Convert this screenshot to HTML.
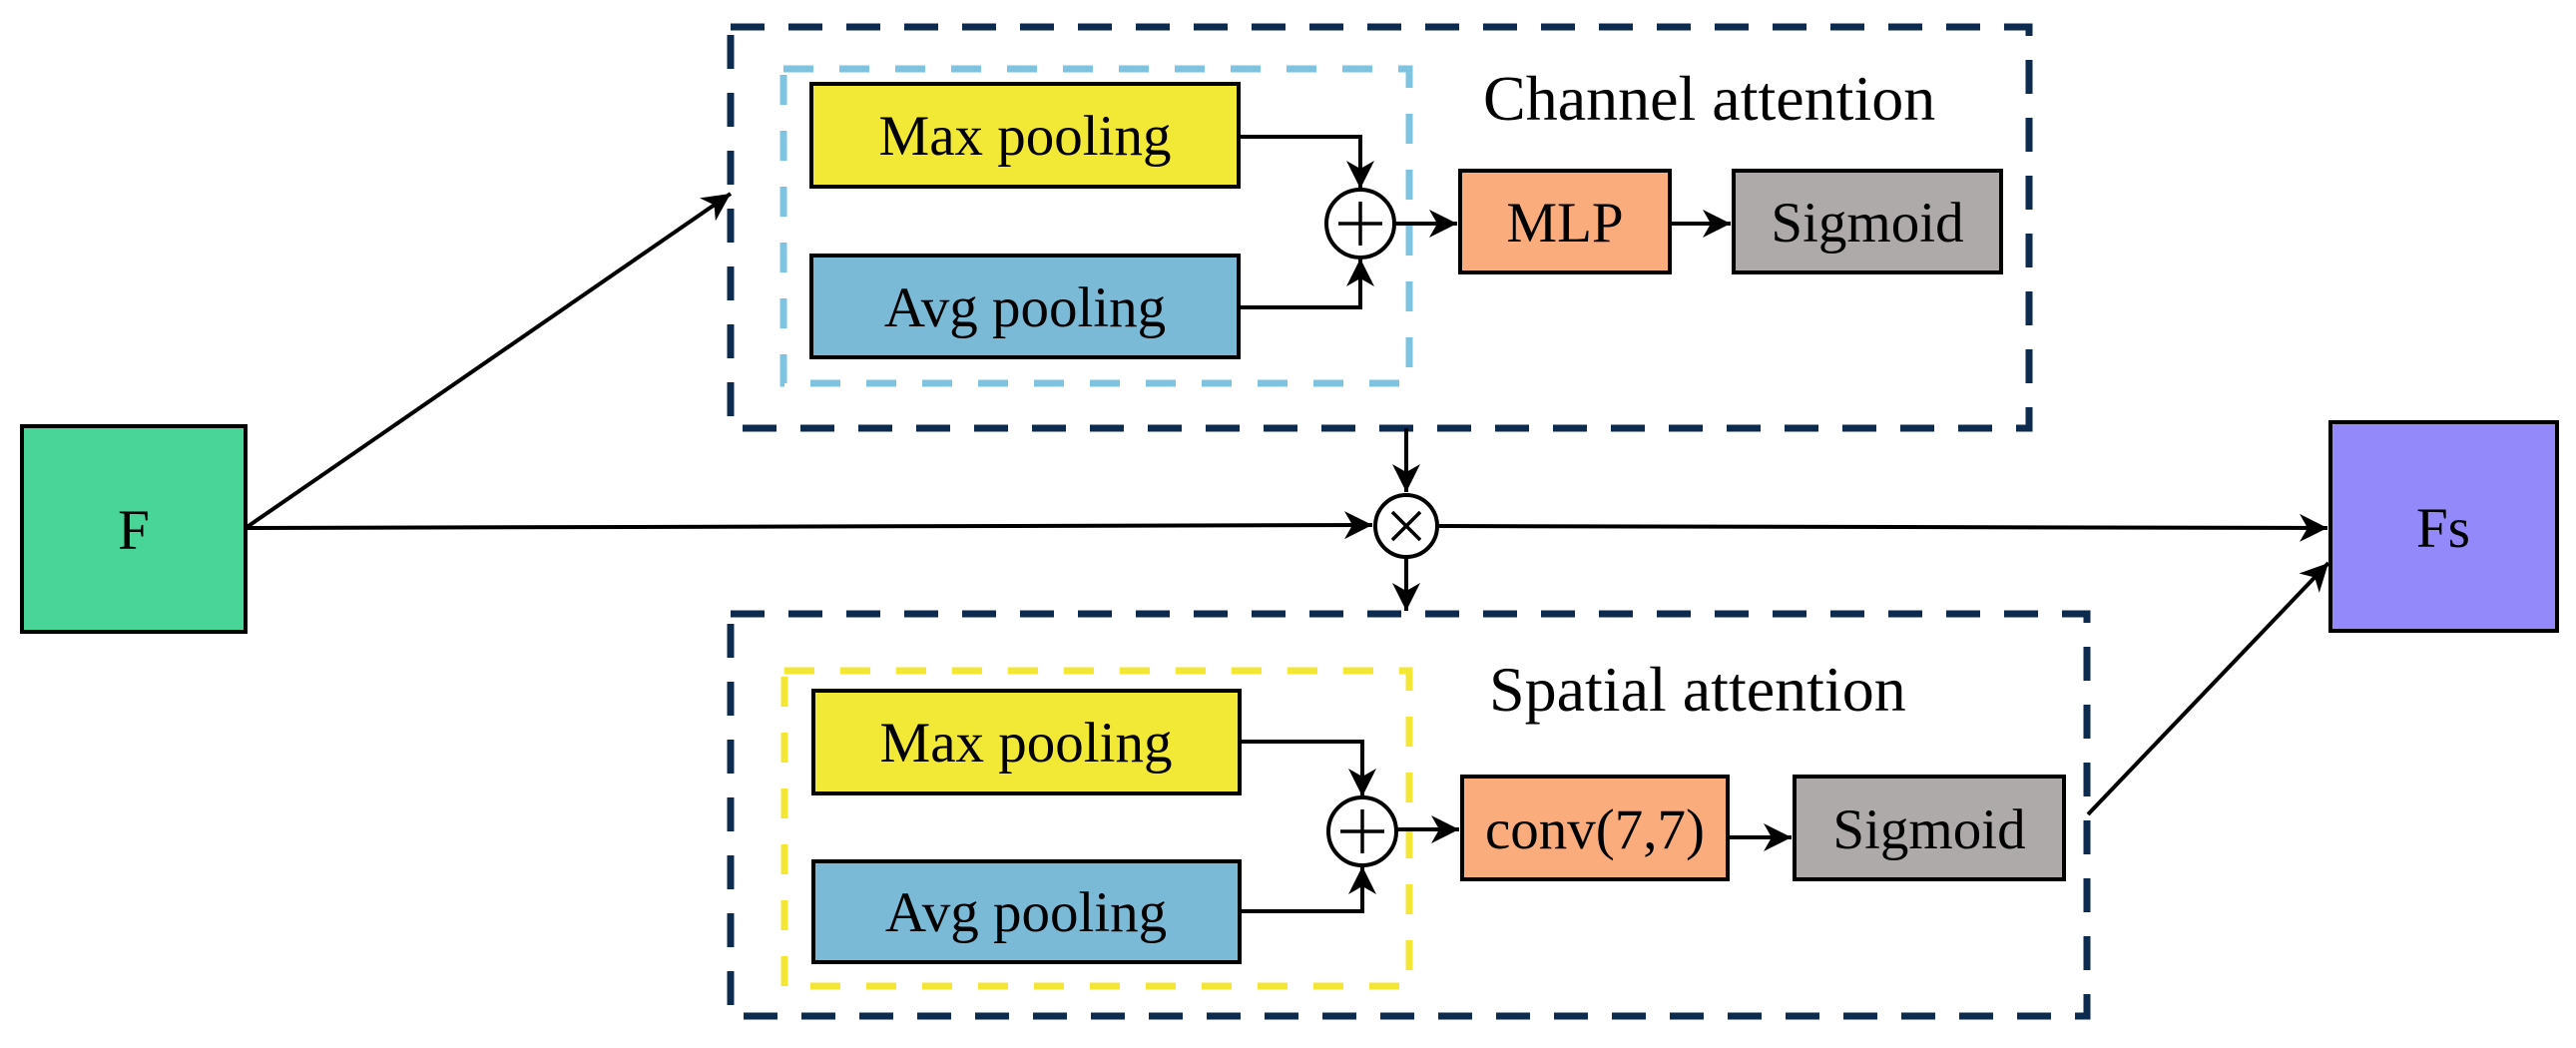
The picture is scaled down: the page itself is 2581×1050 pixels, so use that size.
<!DOCTYPE html>
<html><head><meta charset="utf-8"><style>html,body{margin:0;padding:0;background:#fff}svg{display:block}</style></head><body>
<svg width="2581" height="1050" viewBox="0 0 2581 1050" xmlns="http://www.w3.org/2000/svg" font-family="Liberation Serif, serif">
<defs>
<marker id="a" markerWidth="8" markerHeight="8" refX="7" refY="4" orient="auto" markerUnits="strokeWidth">
<path d="M0,0.5 L7,4 L0,7.5 L2,4 Z" fill="#000"/>
</marker>
</defs>
<!-- dashed containers -->
<rect x="732" y="27" width="1301" height="402" fill="none" stroke="#0d2b4e" stroke-width="7" stroke-dasharray="34,24"/>
<rect x="785" y="69" width="627" height="315" fill="none" stroke="#7ec4e0" stroke-width="7" stroke-dasharray="30,26"/>
<rect x="732" y="615" width="1359" height="403" fill="none" stroke="#0d2b4e" stroke-width="7" stroke-dasharray="34,24"/>
<rect x="786" y="672" width="626" height="316" fill="none" stroke="#f4e733" stroke-width="7" stroke-dasharray="30,26"/>

<g stroke="#000" stroke-width="4">
<rect x="22" y="427" width="224" height="206" fill="#48d597"/>
<rect x="2335" y="423" width="227" height="209" fill="#9489fa"/>
<rect x="813" y="84" width="428" height="103" fill="#f2e836"/>
<rect x="813" y="256" width="428" height="102" fill="#7bbad6"/>
<rect x="815" y="692" width="427" height="103" fill="#f2e836"/>
<rect x="815" y="863" width="427" height="101" fill="#7bbad6"/>
<rect x="1463" y="171" width="210" height="102" fill="#fbac7c"/>
<rect x="1737" y="171" width="268" height="102" fill="#aeaaaa"/>
<rect x="1465" y="778" width="266" height="103" fill="#fbac7c"/>
<rect x="1798" y="778" width="270" height="103" fill="#aeaaaa"/>
<circle cx="1363" cy="224" r="34" fill="#fff"/>
<circle cx="1365" cy="833" r="34" fill="#fff"/>
<circle cx="1409" cy="527" r="31" fill="#fff"/>
</g>
<g stroke="#000" stroke-width="3.5">
<line x1="1341" y1="224" x2="1385" y2="224"/><line x1="1363" y1="202" x2="1363" y2="246"/>
<line x1="1343" y1="833" x2="1387" y2="833"/><line x1="1365" y1="811" x2="1365" y2="855"/>
<line x1="1395" y1="513" x2="1423" y2="541"/><line x1="1423" y1="513" x2="1395" y2="541"/>
</g>
<g stroke="#000" stroke-width="4" fill="none" marker-end="url(#a)">
<polyline points="1241,137 1363,137 1363,189"/>
<polyline points="1241,308 1363,308 1363,259"/>
<polyline points="1242,743 1365,743 1365,798"/>
<polyline points="1242,913 1365,913 1365,868"/>
<line x1="1397" y1="224" x2="1460" y2="224"/>
<line x1="1673" y1="224" x2="1734" y2="224"/>
<line x1="1399" y1="831" x2="1462" y2="831"/>
<line x1="1731" y1="839" x2="1795" y2="839"/>
<line x1="246" y1="529" x2="732" y2="194"/>
<line x1="246" y1="529" x2="1375" y2="526"/>
<line x1="1440" y1="527" x2="2332" y2="529"/>
<line x1="1409" y1="429" x2="1409" y2="493"/>
<line x1="1409" y1="558" x2="1409" y2="612"/>
<line x1="2092" y1="816" x2="2333" y2="564"/>
</g>
<g font-size="57" text-anchor="middle" fill="#000">
<text x="134" y="550">F</text>
<text x="2448" y="548">Fs</text>
<text x="1027" y="155">Max pooling</text>
<text x="1027" y="327">Avg pooling</text>
<text x="1028" y="763">Max pooling</text>
<text x="1028" y="933">Avg pooling</text>
<text x="1568" y="242">MLP</text>
<text x="1871" y="242">Sigmoid</text>
<text x="1598" y="850">conv(7,7)</text>
<text x="1933" y="850">Sigmoid</text>
</g>
<g font-size="64" fill="#000">
<text x="1486" y="120">Channel attention</text>
<text x="1492" y="712">Spatial attention</text>
</g>
</svg>
</body></html>
